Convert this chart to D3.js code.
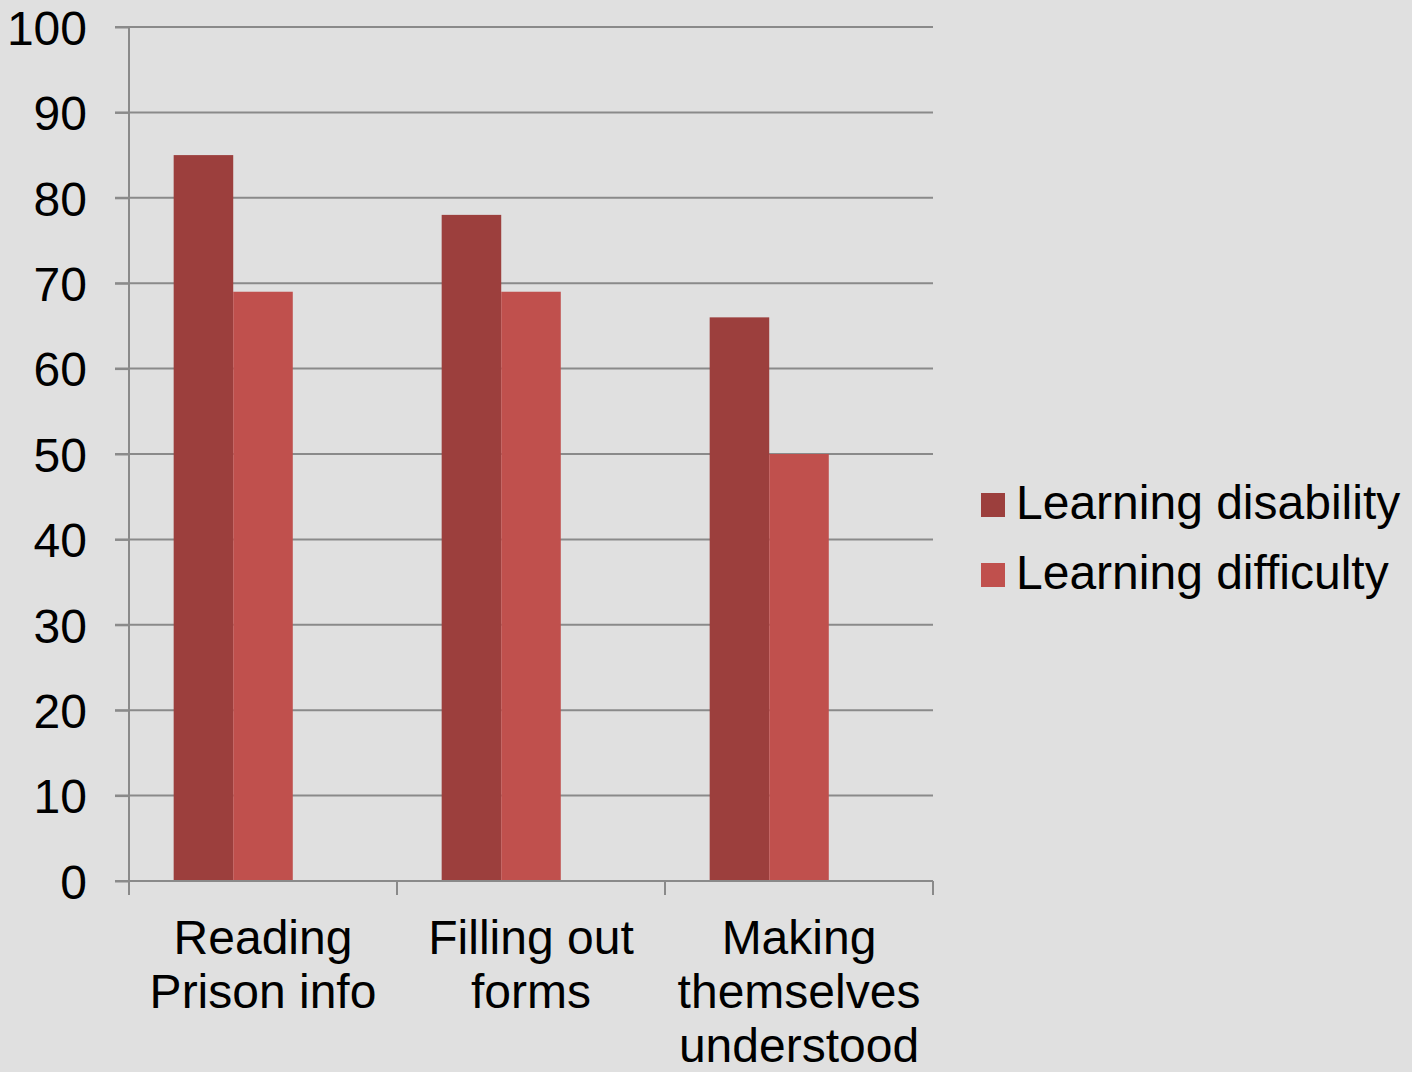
<!DOCTYPE html>
<html><head><meta charset="utf-8">
<script src="https://cdn.jsdelivr.net/npm/d3@7"></script>
<style>html,body{margin:0;padding:0;background:#e0e0e0;}svg{display:block;}</style>
</head><body>
<svg id="chart" width="1412" height="1072"></svg>
<script>
const categories = [["Reading","Prison info"],["Filling out","forms"],["Making","themselves","understood"]];
const seriesNames = ["Learning disability","Learning difficulty","(empty)"];
const disability = [85,78,66];
const difficulty = [69,69,50];
const empty = [null,null,null];
const yTicks = [0,10,20,30,40,50,60,70,80,90,100];
const colors = ["#9c3f3d","#c0504d","none"];

(function(){
const svg = d3.select("#chart");
svg.append("rect").attr("width",1412).attr("height",1072).attr("fill","#e0e0e0");
const font = "'Liberation Sans', Arial, sans-serif";
const pL=129, pR=933, pT=27, pB=881;
const x = d3.scaleBand().domain(d3.range(categories.length)).range([pL,pR]).paddingInner(0).paddingOuter(0);
const y = d3.scaleLinear().domain([0,100]).range([pB,pT]);
// inner scale: 3 series slots, gap = 150% of bar width
const inner = d3.scaleBand().domain(d3.range(3)).range([0,x.bandwidth()]).paddingInner(0).paddingOuter(0.75);
const series = [disability,difficulty,empty];
const gridColor = "#8a8a8a";

// gridlines
svg.append("g").selectAll("line").data(yTicks.filter(t=>t>0)).join("line")
  .attr("x1",pL-14).attr("x2",pR).attr("y1",d=>y(d)).attr("y2",d=>y(d))
  .attr("stroke",gridColor).attr("stroke-width",2);

// bars
series.forEach((vals,si)=>{
  if(colors[si]==="none") return;
  svg.append("g").selectAll("rect").data(vals).join("rect")
    .attr("x",(d,i)=>x(i)+inner(si)).attr("width",inner.bandwidth())
    .attr("y",d=>y(d)).attr("height",d=>y(0)-y(d))
    .attr("fill",colors[si]);
});

// y axis
const yAxis = d3.axisLeft(y).tickValues(yTicks).tickSize(14).tickPadding(28);
const gy = svg.append("g").attr("transform",`translate(${pL},0)`).call(yAxis);
gy.select(".domain").attr("stroke",gridColor).attr("stroke-width",2).attr("d",`M0,${pT}V${pB}`);
gy.selectAll(".tick line").attr("stroke",gridColor).attr("stroke-width",2);
gy.selectAll(".tick text").attr("font-family",font).attr("font-size",48).attr("fill","#000").attr("dy","0.36em");

// x axis
const gx = svg.append("g").attr("transform",`translate(0,${pB})`);
gx.append("line").attr("x1",pL-14).attr("x2",pR).attr("y1",0).attr("y2",0).attr("stroke",gridColor).attr("stroke-width",2);
const bounds = d3.range(categories.length+1).map(i=> i<categories.length ? x(i) : x(i-1)+x.bandwidth());
gx.selectAll("line.tk").data(bounds).join("line").attr("class","tk")
  .attr("x1",d=>d).attr("x2",d=>d).attr("y1",0).attr("y2",14).attr("stroke",gridColor).attr("stroke-width",2);
const labels = gx.selectAll("text").data(categories).join("text")
  .attr("font-family",font).attr("font-size",48).attr("fill","#000").attr("text-anchor","middle");
labels.each(function(lines,i){
  const t=d3.select(this);
  lines.forEach((ln,j)=>{
    t.append("tspan").attr("x",x(i)+x.bandwidth()/2).attr("y",73+j*54).text(ln);
  });
});

// legend
const legend = svg.append("g");
[0,1].forEach(i=>{
  const g = legend.append("g").attr("transform",`translate(981,${493+i*70})`);
  g.append("rect").attr("width",24).attr("height",24).attr("fill",colors[i]);
  g.append("text").attr("x",35).attr("y",26).attr("font-family",font).attr("font-size",48).attr("fill","#000").text(seriesNames[i]);
});
})();
</script>
</body></html>
